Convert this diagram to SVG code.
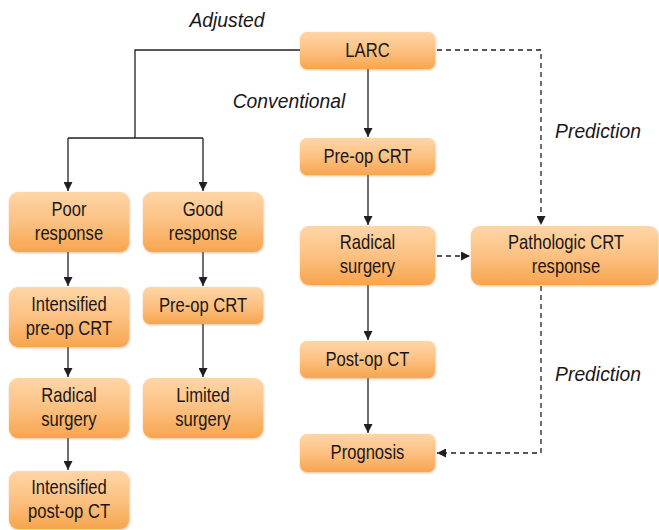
<svg xmlns="http://www.w3.org/2000/svg" width="659" height="530" viewBox="0 0 659 530">
<style>
.box{fill:url(#g);filter:url(#sh)}
.t{font-family:"Liberation Sans",Arial,sans-serif;font-size:20.5px;fill:#1a1718;text-anchor:middle}
.lbl{font-family:"Liberation Sans",Arial,sans-serif;font-size:21px;font-style:italic;fill:#1a1718;text-anchor:middle}
.c{fill:none;stroke:#231f20;stroke-width:1.3}
.d{fill:none;stroke:#231f20;stroke-width:1.3;stroke-dasharray:5,4}
</style>
<defs>
<linearGradient id="g" x1="0" y1="0" x2="0" y2="1">
<stop offset="0" stop-color="#fed6a6"/>
<stop offset="0.5" stop-color="#fcc182"/>
<stop offset="1" stop-color="#f7a54e"/>
</linearGradient>
<filter id="sh" x="-10%" y="-10%" width="120%" height="130%">
<feDropShadow dx="0.5" dy="1" stdDeviation="0.8" flood-color="#c9782a" flood-opacity="0.5"/>
</filter>
<marker id="a" viewBox="0 0 10 10" refX="10" refY="5" markerWidth="9" markerHeight="9" markerUnits="userSpaceOnUse" orient="auto">
<path d="M0,0 L10,5 L0,10 Z" fill="#231f20"/>
</marker>
</defs>
<g id="connectors">
<path class="c" d="M300,50 H135 V138"/>
<path class="c" d="M68,138 H203"/>
<path class="c" d="M68,138 V191" marker-end="url(#a)"/>
<path class="c" d="M203,138 V191" marker-end="url(#a)"/>
<path class="c" d="M68,252 V286" marker-end="url(#a)"/>
<path class="c" d="M68,347 V377" marker-end="url(#a)"/>
<path class="c" d="M68,438 V470" marker-end="url(#a)"/>
<path class="c" d="M203,252 V286" marker-end="url(#a)"/>
<path class="c" d="M203,324 V377" marker-end="url(#a)"/>
<path class="c" d="M368,69 V137" marker-end="url(#a)"/>
<path class="c" d="M368,175 V225" marker-end="url(#a)"/>
<path class="c" d="M368,285 V340" marker-end="url(#a)"/>
<path class="c" d="M368,378 V433" marker-end="url(#a)"/>
<path class="d" d="M437,50 H541 V225" marker-end="url(#a)"/>
<path class="d" d="M437,256 H470" marker-end="url(#a)"/>
<path class="d" d="M541,286 V453 H437" marker-end="url(#a)"/>
</g>
<g id="labels">
<text class="lbl" x="227" y="27" transform="matrix(0.92 0 0 1 18.16 0)">Adjusted</text>
<text class="lbl" x="289" y="108" transform="matrix(0.92 0 0 1 23.12 0)">Conventional</text>
<text class="lbl" x="598" y="138" transform="matrix(0.92 0 0 1 47.84 0)">Prediction</text>
<text class="lbl" x="598" y="381" transform="matrix(0.92 0 0 1 47.84 0)">Prediction</text>
</g>
<g id="larc"><rect class="box" x="300" y="32" width="135" height="37" rx="7"/><text class="t" x="367.5" y="57.5" transform="matrix(0.81 0 0 1 69.825 0)">LARC</text></g>
<g id="poor"><rect class="box" x="9" y="192" width="120" height="60" rx="9"/><g transform="matrix(0.81 0 0 1 13.11 0)"><text class="t" x="69" y="216">Poor</text><text class="t" x="69" y="240">response</text></g></g>
<g id="good"><rect class="box" x="143" y="192" width="120" height="60" rx="9"/><g transform="matrix(0.81 0 0 1 38.57 0)"><text class="t" x="203" y="216">Good</text><text class="t" x="203" y="240">response</text></g></g>
<g id="int-preop"><rect class="box" x="9" y="287" width="120" height="60" rx="9"/><g transform="matrix(0.81 0 0 1 13.11 0)"><text class="t" x="69" y="311">Intensified</text><text class="t" x="69" y="335">pre-op CRT</text></g></g>
<g id="preop-left"><rect class="box" x="143" y="287" width="120" height="37" rx="7"/><text class="t" x="203" y="312.5" transform="matrix(0.81 0 0 1 38.57 0)">Pre-op CRT</text></g>
<g id="radical-left"><rect class="box" x="9" y="378" width="120" height="60" rx="9"/><g transform="matrix(0.81 0 0 1 13.11 0)"><text class="t" x="69" y="402">Radical</text><text class="t" x="69" y="426">surgery</text></g></g>
<g id="limited"><rect class="box" x="143" y="378" width="120" height="60" rx="9"/><g transform="matrix(0.81 0 0 1 38.57 0)"><text class="t" x="203" y="402">Limited</text><text class="t" x="203" y="426">surgery</text></g></g>
<g id="int-postop"><rect class="box" x="9" y="471" width="120" height="58" rx="9"/><g transform="matrix(0.81 0 0 1 13.11 0)"><text class="t" x="69" y="494">Intensified</text><text class="t" x="69" y="518">post-op CT</text></g></g>
<g id="preop-mid"><rect class="box" x="300" y="138" width="135" height="37" rx="7"/><text class="t" x="367.5" y="163.5" transform="matrix(0.81 0 0 1 69.825 0)">Pre-op CRT</text></g>
<g id="radical-mid"><rect class="box" x="300" y="226" width="135" height="59" rx="9"/><g transform="matrix(0.81 0 0 1 69.825 0)"><text class="t" x="367.5" y="249">Radical</text><text class="t" x="367.5" y="273">surgery</text></g></g>
<g id="pathologic"><rect class="box" x="471" y="226" width="187" height="59" rx="9"/><g transform="matrix(0.81 0 0 1 107.54 0)"><text class="t" x="566" y="249">Pathologic CRT</text><text class="t" x="566" y="273">response</text></g></g>
<g id="postop"><rect class="box" x="300" y="341" width="135" height="37" rx="7"/><text class="t" x="367.5" y="366.5" transform="matrix(0.81 0 0 1 69.825 0)">Post-op CT</text></g>
<g id="prognosis"><rect class="box" x="300" y="434" width="135" height="38" rx="7"/><text class="t" x="367.5" y="459.5" transform="matrix(0.81 0 0 1 69.825 0)">Prognosis</text></g>
</svg>
